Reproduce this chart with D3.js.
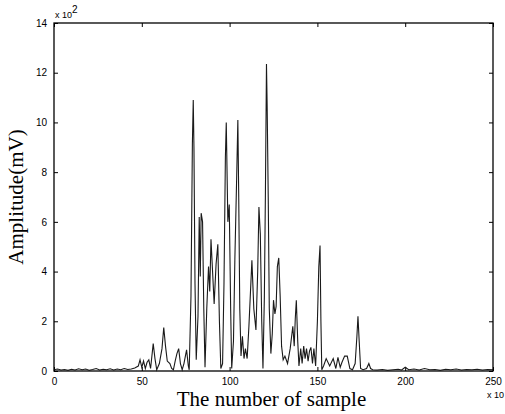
<!DOCTYPE html>
<html>
<head>
<meta charset="utf-8">
<script src="https://cdn.jsdelivr.net/npm/d3@7"></script>
<style>
  html, body { margin: 0; padding: 0; background: #fff; }
  svg { display: block; }
</style>
</head>
<body>
<script>
// ---- data (x in units of 10 samples, y in units of 10^2 mV) ----
const sampleX = [
  0,2,4,6,8,10,12,14,16,18,20,22,24,26,28,30,32,34,36,38,40,42,44,46,48,
  49,50,51,52,53,54,55,56.5,57.5,58.5,60,61.5,62.5,63.5,64.5,66,67,68,69,70,71,72,73,74,75.5,76.5,77,
  78,78.8,79.3,79.7,80.3,81,82,82.7,83.3,83.8,84.6,85.3,86,87,88,88.7,89.4,90.3,91.2,92.3,93.3,94.2,95,
  96,96.8,97.6,98.1,99,99.8,100.6,101.2,102.2,103,104,104.7,105.2,105.8,106.5,107.3,108.2,109,110,111,112.7,113.8,115,116,116.7,117.5,118.3,119,
  119.8,120.4,121,121.4,122,122.6,123.5,124.3,125,125.8,126.5,127.2,128,128.8,129.6,130.5,131.5,133,134.5,136,136.8,137.4,138,138.8,139.5,
  140.5,141.3,142.2,143,143.8,144.7,145.5,146.3,147.2,148,149,150,150.8,151.5,152,152.5,
  153.5,155,157,159,160.5,161.7,163,164,165.5,167,168.5,170,171.5,172.5,173.1,173.8,174.6,176,178,179.3,180.3,181.5,
  184,187,190,193,196,198,200,202,205,208,211,214,217,220,223,226,229,232,235,238,241,244,247,250
];
const amplitude = [
  0.05,0.08,0.04,0.06,0.03,0.07,0.04,0.09,0.05,0.08,0.03,0.06,0.1,0.04,0.07,0.05,0.09,0.04,0.08,0.05,0.1,0.06,0.08,0.12,0.2,
  0.45,0.15,0.4,0.1,0.35,0.45,0.1,1.1,0.5,0.05,0.3,0.9,1.75,1.0,0.4,0.3,0.1,0.05,0.4,0.7,0.9,0.3,0.05,0.3,0.85,0.2,0.05,
  3.0,9.1,10.9,9.0,3.5,0.45,2.2,6.2,3.8,6.35,6.0,2.5,0.15,2.5,4.2,3.2,5.3,4.0,2.7,4.3,5.1,2.0,0.1,
  0.3,3.5,8.6,10.0,6.0,6.7,2.5,0.1,1.2,4.5,7.7,10.1,7.0,2.5,0.6,1.4,0.5,0.9,0.5,1.8,4.45,2.5,1.65,4.0,6.6,5.5,2.0,0.1,
  3.0,7.2,12.35,10.6,7.0,2.5,0.7,1.5,2.85,2.3,2.6,4.2,4.55,3.0,1.0,0.45,0.6,0.3,0.9,1.8,1.0,2.1,2.85,1.2,0.2,
  0.9,0.3,1.0,0.5,0.9,0.4,0.8,0.95,0.3,0.9,0.2,2.0,4.2,5.05,2.0,0.05,
  0.2,0.5,0.2,0.5,0.1,0.55,0.15,0.35,0.6,0.6,0.1,0.05,0.3,1.4,2.2,1.2,0.1,0.05,0.1,0.3,0.1,0.05,
  0.04,0.06,0.03,0.05,0.07,0.04,0.15,0.05,0.08,0.04,0.1,0.05,0.06,0.03,0.07,0.05,0.08,0.04,0.06,0.05,0.07,0.04,0.06,0.05
];
const xTicks = [0, 50, 100, 150, 200, 250];
const yTicks = [0, 2, 4, 6, 8, 10, 12, 14];
const xLabel = "The number of sample";
const yLabel = "Amplitude(mV)";

// ---- layout ----
const W = 505, H = 414;
const M = { left: 54, right: 12, top: 23, bottom: 43 };
const iw = W - M.left - M.right, ih = H - M.top - M.bottom;

const svg = d3.select("body").append("svg").attr("width", W).attr("height", H);
const g = svg.append("g").attr("transform", `translate(${M.left},${M.top})`);

const x = d3.scaleLinear().domain([0, 250]).range([0, iw]);
const y = d3.scaleLinear().domain([0, 14]).range([ih, 0]);

const tickFont = "Liberation Sans, Arial, sans-serif";

function styleAxis(sel) {
  sel.select(".domain").remove();
  sel.selectAll(".tick line").attr("stroke", "#000").attr("stroke-width", 1);
  sel.selectAll(".tick text").attr("font-family", tickFont).attr("font-size", 10).attr("fill", "#000");
}

// bottom
g.append("g").attr("transform", `translate(0,${ih})`)
  .call(d3.axisBottom(x).tickValues(xTicks).tickSizeInner(-4).tickSizeOuter(0).tickPadding(7))
  .call(styleAxis);
// top
g.append("g")
  .call(d3.axisTop(x).tickValues(xTicks).tickSizeInner(-4).tickSizeOuter(0).tickFormat(""))
  .call(styleAxis);
// left
g.append("g")
  .call(d3.axisLeft(y).tickValues(yTicks).tickSizeInner(-4).tickSizeOuter(0).tickPadding(7))
  .call(styleAxis);
// right
g.append("g").attr("transform", `translate(${iw},0)`)
  .call(d3.axisRight(y).tickValues(yTicks).tickSizeInner(-4).tickSizeOuter(0).tickFormat(""))
  .call(styleAxis);

// signal
const pts = sampleX.map((v, i) => [v, amplitude[i]]);
g.append("path")
  .datum(pts)
  .attr("fill", "none")
  .attr("stroke", "#1a1a1a")
  .attr("stroke-width", 1.1)
  .attr("stroke-linejoin", "miter")
  .attr("d", d3.line().x(d => x(d[0])).y(d => y(d[1])));

// frame
g.append("rect").attr("x", 0).attr("y", 0).attr("width", iw).attr("height", ih)
  .attr("fill", "none").attr("stroke", "#000").attr("stroke-width", 1.3);

// multipliers
const ym = svg.append("text").attr("x", M.left + 1).attr("y", M.top - 5)
  .attr("font-family", tickFont).attr("font-size", 9).attr("fill", "#000");
ym.append("tspan").text("x 10");
ym.append("tspan").attr("dy", -5).attr("font-size", 10).text("2");

svg.append("text").attr("x", M.left + iw - 6).attr("y", M.top + ih + 27)
  .attr("font-family", tickFont).attr("font-size", 9).attr("fill", "#000").text("x 10");

// axis labels
svg.append("text").attr("x", M.left + iw / 2 - 2).attr("y", H - 8)
  .attr("text-anchor", "middle")
  .attr("font-family", "Liberation Serif, Times New Roman, serif").attr("font-size", 21)
  .attr("fill", "#000").text(xLabel);

svg.append("text")
  .attr("transform", `translate(${23},${M.top + ih / 2}) rotate(-90)`)
  .attr("text-anchor", "middle")
  .attr("font-family", "Liberation Serif, Times New Roman, serif").attr("font-size", 21)
  .attr("fill", "#000").text(yLabel);
</script>
</body>
</html>
